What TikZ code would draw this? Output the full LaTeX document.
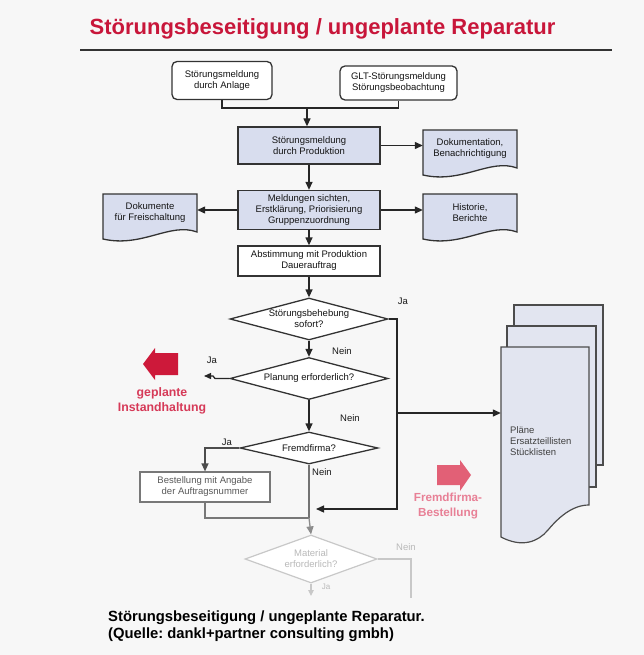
\documentclass[tikz,border=0pt]{standalone}
\usepackage{fontspec}
\setmainfont{Liberation Sans}
\usetikzlibrary{arrows.meta,shapes.geometric}
\definecolor{titlered}{RGB}{200,22,58}
\definecolor{boxfill}{RGB}{216,221,238}
\definecolor{stackfill}{RGB}{226,229,240}
\definecolor{bgc}{RGB}{247,247,247}
\definecolor{fadec}{RGB}{200,200,200}
\definecolor{fadetext}{RGB}{185,185,185}
\definecolor{midgrey}{RGB}{120,120,120}
\definecolor{blockred}{RGB}{205,25,58}
\definecolor{redtext}{RGB}{214,58,88}
\definecolor{pinkarrow}{RGB}{226,96,118}
\definecolor{pinktext}{RGB}{232,128,150}
\frenchspacing
\begin{document}
\begin{tikzpicture}[x=1pt,y=-1pt,
  txt/.style={font=\fontsize{9.5}{11}\selectfont, text=black!92, inner sep=0pt, align=center},
  box/.style={txt, draw=black!80, line width=1.3pt},
  rbox/.style={box, fill=white, rounded corners=5pt},
  pbox/.style={box, fill=boxfill},
  wbox/.style={box, fill=white},
  docshape/.style={draw=black!80, line width=1.3pt, fill=boxfill},
  doctext/.style={txt, minimum width=94pt},
  dia/.style={txt, diamond, draw=black!80, line width=1.3pt, fill=white},
  con/.style={draw=black!85, line width=1.3pt},
  tip/.style={-{Triangle[length=8pt,width=7pt]}},
  arr/.style={con, tip},
  lab/.style={txt, text=black!90},
  redlab/.style={inner sep=0pt, align=center, font=\fontsize{12.3}{15}\bfseries, text=redtext},
  pinklab/.style={inner sep=0pt, align=center, font=\fontsize{11.7}{15}\bfseries, text=pinktext},
]
\fill[bgc] (0,0) rectangle (644,655);
\useasboundingbox (0,0) rectangle (644,655);

% title
\node[font=\fontsize{22}{26}\bfseries, text=titlered, inner sep=0pt] (title) at (322.5,29) {Störungsbeseitigung / ungeplante Reparatur};
\coordinate (hl1) at (80,50);
\coordinate (hl2) at (612,50);
\draw[black!80, line width=1.2pt] (hl1) -- (hl2);

% top boxes
\node[rbox, minimum width=100pt, minimum height=38pt] (b1) at (222,80.5) {Störungsmeldung\\durch Anlage};
\node[rbox, minimum width=117pt, minimum height=34pt] (b2) at (398.5,83) {GLT-Störungsmeldung\\Störungsbeobachtung};
\node[pbox, minimum width=142pt, minimum height=37pt] (b3) at (309,145.5) {Störungsmeldung\\durch Produktion};
\node[pbox, minimum width=142pt, minimum height=39pt] (b4) at (309,210) {Meldungen sichten,\\Erstklärung, Priorisierung\\Gruppenzuordnung};
\node[wbox, minimum width=142pt, minimum height=30pt] (b5) at (309,261) {Abstimmung mit Produktion\\Dauerauftrag};

\coordinate (j1) at (307,108);
\draw[con] (b1.south) |- (j1) -| (b2.south);
\draw[arr] (j1) -- (j1 |- b3.north);

% documents
\draw[docshape] (423,130) -- (517,130) -- (517,168) .. controls (490,158) and (462,184) .. (423,175) -- cycle;
\node[doctext] (d1) at (470,149) {Dokumentation,\\Benachrichtigung};
\draw[docshape] (423,194) -- (517,194) -- (517,232) .. controls (490,222) and (462,248) .. (423,239) -- cycle;
\node[doctext] (d2) at (470,212.5) {Historie,\\Berichte};
\draw[docshape] (103,194) -- (197,194) -- (197,232) .. controls (170,222) and (142,248) .. (103,239) -- cycle;
\node[doctext] (d3) at (150,212.5) {Dokumente\\für Freischaltung};

\draw[arr] (b3.east) -- (b3.east -| d1.west);
\draw[arr] (b4.east) -- (b4.east -| d2.west);
\draw[arr] (b4.west) -- (b4.west -| d3.east);
\draw[arr] (b3) -- (b4);
\draw[arr] (b4) -- (b5);

% decisions
\node[dia, minimum width=158pt, minimum height=42pt, aspect=3.76] (q1) at (309,319) {Störungsbehebung\\sofort?};
\node[dia, minimum width=158pt, minimum height=42pt, aspect=3.76] (q2) at (309,378.5) {Planung erforderlich?};
\node[dia, minimum width=138pt, minimum height=32pt, aspect=4.3] (q3) at (309,448) {Fremdfirma?};
\node[box, draw=midgrey, text=black!65, line width=1.2pt, fill=white, minimum width=130pt, minimum height=30pt] (bb) at (205,487) {Bestellung mit Angabe\\der Auftragsnummer};
\node[txt, diamond, draw=fadec, text=fadetext, line width=1.2pt, fill=white, minimum width=132pt, minimum height=48pt, aspect=2.75] (q4) at (311,559) {Material\\erforderlich?};

\draw[arr] (b5) -- (q1);
\draw[arr] (q1) -- (q2);
\draw[arr] (q2) -- (q3);

% Ja branch from q1
\coordinate (rt) at (397,319);
\coordinate (rc) at (397,509);
\coordinate (ta) at (316,509);
\coordinate (rb) at (397,413);
\draw[arr] (q1.east) -- (rt) -- (rc) -- (ta);

% stack of documents
\draw[draw=black!70, line width=1.2pt, fill=stackfill] (514,305) rectangle (603,465);
\draw[draw=black!70, line width=1.2pt, fill=stackfill] (507,326) rectangle (596,487);
\draw[draw=black!70, line width=1.2pt, fill=stackfill] (501,347) -- (589,347) -- (589,505) .. controls (572,505) and (558,518) .. (548,530) .. controls (538,542) and (522,548) .. (501,537) -- cycle;
\node[inner sep=0pt, minimum width=88pt, minimum height=158pt] (fd) at (545,426) {};
\node[txt, align=left, anchor=west, text=black!75] (fdt) at (510,441.5) {Pläne\\Ersatzteillisten\\Stücklisten};
\draw[arr] (rb) -- (rb -| fd.west);

% Ja branch from q2
\coordinate (k1) at (215,378.5);
\coordinate (k2) at (213,376);
\coordinate (jk) at (204,376);
\draw[con, -{Triangle[length=7pt,width=6pt]}] (q2.west) -- (k1) -- (k2) -- (jk);

% Ja branch from q3
\draw[con, tip, draw=black!70] (q3.west) -| (bb.north);

% Nein from q3
\coordinate (j2) at (309,518);
\draw[con, draw=black!55] (q3.south) -- (j2);
\draw[con, draw=midgrey] (bb.south) |- (j2);
\draw[con, draw=black!45, tip] (j2) -- (q4.north);

% q4 branches (faded)
\coordinate (n4a) at (411,559);
\coordinate (n4b) at (411,598);
\draw[con, draw=fadec, line width=1.2pt] (q4.east) -- (n4a) -- (n4b);
\coordinate (q4e) at (311,596);
\draw[con, draw=fadec, line width=1.2pt, -{Triangle[length=6pt,width=5.5pt]}] (q4.south) -- (q4e);

% labels
\node[lab] (l1) at (403,301) {Ja};
\node[lab] (l2) at (342,351) {Nein};
\node[lab] (l3) at (212,360) {Ja};
\node[lab] (l4) at (350,418) {Nein};
\node[lab] (l5) at (227,442) {Ja};
\node[lab] (l6) at (322,472) {Nein};
\node[lab, text=fadetext] (l7) at (406,547) {Nein};
\node[lab, text=fadetext, font=\fontsize{8}{9}\selectfont] (l8) at (326,587) {Ja};

% block arrows
\fill[blockred] (143,364) -- (155,348) -- (155,353) -- (178,353) -- (178,375) -- (155,375) -- (155,380) -- cycle;
\node[redlab] (gi) at (162,400.5) {geplante\\Instandhaltung};
\fill[pinkarrow] (471,475) -- (460,460) -- (460,465) -- (437,465) -- (437,485) -- (460,485) -- (460,491) -- cycle;
\node[pinklab] (fb) at (448,505.5) {Fremdfirma-\\Bestellung};

% caption
\node[inner sep=0pt, anchor=west, align=left, font=\fontsize{14.8}{16.5}\bfseries] (cap) at (108,626) {Störungsbeseitigung / ungeplante Reparatur.\\(Quelle: dankl+partner consulting gmbh)};
\end{tikzpicture}
\end{document}
